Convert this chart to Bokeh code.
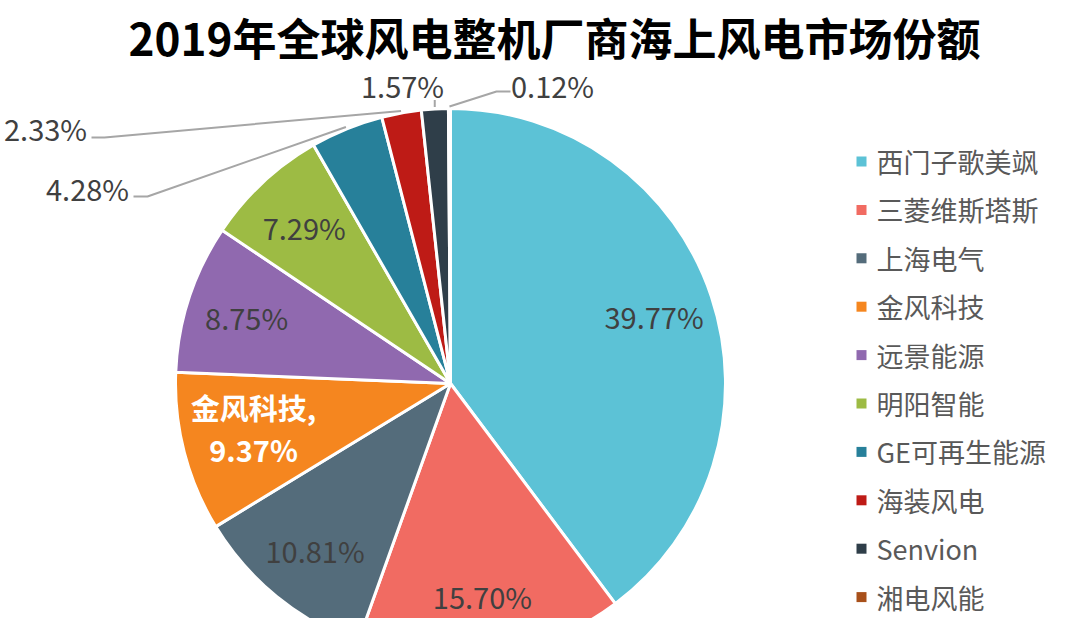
import math
from bokeh.plotting import figure
from bokeh.models import Range1d, ColumnDataSource
from bokeh.core.properties import value
from bokeh.embed import file_html
from bokeh.resources import INLINE

# ---------------- data ----------------
title = "2019年全球风电整机厂商海上风电市场份额"
companies = ["西门子歌美飒", "三菱维斯塔斯", "上海电气", "金风科技", "远景能源",
             "明阳智能", "GE可再生能源", "海装风电", "Senvion", "湘电风能"]
shares = [39.77, 15.70, 10.81, 9.37, 8.75, 7.29, 4.28, 2.33, 1.57, 0.12]
colors = ["#5CC2D6", "#F16B62", "#546C7B", "#F5861F", "#9069AF",
          "#9DBB44", "#27809A", "#BE1B16", "#2F3E49", "#A8501A"]

# ---------------- layout (pixel coords of the 1080x634 image) ----------------
W, H = 1064, 618
FONT = value("Noto Sans CJK SC")
CX, CY, R = 450, 383, 275          # pie centre / radius (image coords, y down)
LABEL_R = 0.78 * R

def Y(yi):                          # image y (down) -> data y (up)
    return 634 - yi

p = figure(width=W, height=H, output_backend="svg", toolbar_location=None,
           x_range=Range1d(0, W), y_range=Range1d(634 - H, 634),
           min_border=0)
p.axis.visible = False
p.grid.visible = False
p.outline_line_color = None
p.background_fill_color = "white"
p.border_fill_color = "white"

# wedges: clockwise from 12 o'clock
total = sum(shares)
starts, ends, mids = [], [], []
cum = 0.0
for s in shares:
    a0 = math.pi / 2 - 2 * math.pi * cum / total
    cum += s
    a1 = math.pi / 2 - 2 * math.pi * cum / total
    starts.append(a1)
    ends.append(a0)
    mids.append((a0 + a1) / 2)

src = ColumnDataSource(dict(start=starts, end=ends, color=colors))
p.wedge(x=CX, y=Y(CY), radius=R, start_angle="start", end_angle="end",
        fill_color="color", line_color="white", line_width=3, source=src)

# inside labels
lab_x, lab_y, lab_t = [], [], []
for i in range(6):
    if i == 3:
        continue
    lab_x.append(CX + LABEL_R * math.cos(mids[i]))
    lab_y.append(Y(CY) + LABEL_R * math.sin(mids[i]))
    lab_t.append(f"{shares[i]:.2f}%")
p.text(x=lab_x, y=lab_y, text=lab_t, text_font=FONT, text_font_size="29px",
       text_color="#404040", text_align="center", text_baseline="middle")

# 金风科技 label (white, bold, two lines)
gx = CX + 0.74 * R * math.cos(mids[3])
gy = Y(CY) + 0.74 * R * math.sin(mids[3]) + 6
p.text(x=[gx, gx], y=[gy + 21, gy - 21],
       text=[companies[3] + ",", f"{shares[3]:.2f}%"],
       text_font=FONT, text_font_size="29px", text_font_style="bold",
       text_color="white", text_align="center", text_baseline="middle")

# outside labels with leader lines
outside = {6: (87, 187, 133, 196, 147, 196),
           7: (45, 127, 91, 137, 104, 137),
           8: (402, 84, None, None, None, None),
           9: (552, 84, 510, 91, 496, 91)}
for i, (tx, ty, x1, y1, x2, y2) in outside.items():
    p.text(x=[tx], y=[Y(ty)], text=[f"{shares[i]:.2f}%"], text_font=FONT,
           text_font_size="29px", text_color="#404040", text_align="center",
           text_baseline="middle")
    ex = CX + (R + 2) * math.cos(mids[i])
    ey = Y(CY) + (R + 2) * math.sin(mids[i])
    if x1 is None:
        p.line(x=[ex, ex], y=[ey, ey + 7], line_color="#A6A6A6", line_width=2)
    else:
        p.line(x=[x1, x2, ex], y=[Y(y1), Y(y2), ey],
               line_color="#A6A6A6", line_width=2)

# legend
leg_y = [Y(161 + i * 48.4) for i in range(len(companies))]
p.scatter(x=[861] * len(companies), y=leg_y, marker="square", size=10,
          fill_color=colors, line_color=None)
p.text(x=[876] * len(companies), y=leg_y, text=companies, text_font=FONT,
       text_font_size="27px", text_color="#595959", text_align="left",
       text_baseline="middle")

# title
p.text(x=[554], y=[Y(36)], text=[title], text_font=FONT, text_font_size="44px",
       text_font_style="bold", text_color="black", text_align="center",
       text_baseline="middle")

open("out.html", "w").write(file_html(p, INLINE))
